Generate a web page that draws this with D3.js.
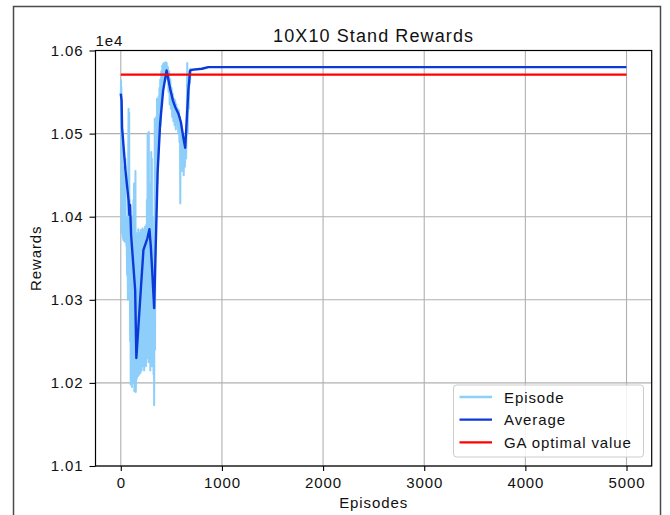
<!DOCTYPE html>
<html>
<head>
<meta charset="utf-8">
<script src="https://cdn.jsdelivr.net/npm/d3@7/dist/d3.min.js"></script>
<style>
  html, body { margin: 0; padding: 0; background: #fff; }
  svg text { font-family: "Liberation Sans", Arial, sans-serif; fill: #111; }
</style>
</head>
<body>
<svg id="chart" width="670" height="515"></svg>
<script>
// Training rewards per episode (raw scores, axis shows them scaled by 1e4)
const episodeIdx = [
  0, 2, 4, 6, 8, 10, 13, 16, 19, 22, 25, 28, 31, 34, 37, 40, 43, 46, 49, 52, 55, 58, 62,
  66, 70, 74, 77, 80, 83, 86, 89, 92, 95, 98, 101, 104, 107, 110, 113, 116, 119, 122, 125, 128,
  131, 134, 137, 140, 143, 145, 148, 152, 155, 158,
  161, 164, 167, 170, 173, 176, 179, 182, 185, 188, 191, 194, 197, 200, 203, 206, 209, 212, 215, 218, 221, 224,
  228, 231, 234, 237, 240, 243, 246, 249, 252, 255, 258, 262, 265, 268, 271, 274, 277, 280, 283, 286, 289,
  292, 295, 298, 301, 304, 307, 310, 313, 316, 320, 324, 327, 330, 333, 336, 339, 342,
  346, 350, 354, 358, 362, 366, 370, 374, 378, 382, 386, 390, 395, 400, 405, 410, 415, 420, 425, 430,
  436, 442, 448, 454, 460, 466,
  472, 478, 484, 490, 496, 502, 508, 514, 520, 526, 532, 538, 544, 550, 556, 562, 568, 574, 580, 585,
  588, 592, 598, 604, 610, 616, 622, 628, 634, 640, 646, 652, 657, 662, 666, 672, 678, 684, 690,
  700, 720, 800, 860, 4999
];
const episodeReward = [
  10545, 10564, 10470, 10556, 10380, 10530, 10440, 10500, 10375, 10460, 10372, 10430, 10380, 10450, 10370, 10420, 10378, 10470, 10372, 10400, 10365, 10380, 10330,
  10390, 10300, 10480, 10530, 10350, 10525, 10300, 10420, 10250, 10370, 10198, 10330, 10200, 10380, 10195, 10400, 10210, 10350, 10200, 10420, 10250,
  10440, 10190, 10350, 10200, 10300, 10455, 10189, 10210, 10320, 10205,
  10380, 10215, 10340, 10208, 10385, 10230, 10300, 10210, 10380, 10220, 10350, 10212, 10384, 10240, 10310, 10215, 10380, 10260, 10386, 10220, 10360, 10230,
  10384, 10215, 10370, 10225, 10388, 10240, 10375, 10220, 10390, 10250, 10420, 10230, 10500, 10300, 10480, 10225, 10502, 10350, 10440, 10230, 10385,
  10215, 10380, 10240, 10478, 10260, 10470, 10220, 10400, 10230, 10360, 10210, 10330, 10173, 10300, 10518, 10240, 10480,
  10380, 10520, 10420, 10542, 10440, 10530, 10470, 10545, 10490, 10555, 10500, 10565, 10510, 10575, 10540, 10582, 10548, 10584, 10560, 10585,
  10565, 10586, 10568, 10585, 10565, 10580,
  10550, 10575, 10535, 10565, 10530, 10555, 10520, 10548, 10515, 10542, 10510, 10540, 10505, 10535, 10515, 10530, 10500, 10528, 10490, 10520,
  10416, 10510, 10470, 10505, 10455, 10495, 10450, 10485, 10460, 10490, 10470, 10520, 10585, 10500, 10560, 10530, 10575, 10560, 10578,
  10577, 10577, 10578, 10580, 10580
];

// Running average of the rewards
const averageIdx = [
  0, 8, 13, 46, 77, 85, 92, 102, 142, 154, 201, 224, 263, 283, 297, 310, 330,
  364, 389, 419, 453, 488, 515, 538, 570, 594, 620, 637, 669, 686, 719, 802, 867, 4999
];
const averageReward = [
  10548, 10540, 10507, 10456, 10420, 10402, 10414, 10378, 10312, 10230, 10318, 10360, 10374, 10385, 10364, 10336, 10290,
  10453, 10512, 10552, 10576, 10554, 10540, 10532, 10524, 10514, 10494, 10483, 10554, 10576, 10577, 10578, 10580, 10580
];

// Reference value from the genetic algorithm
const gaIdx = [0, 5000];
const gaReward = [10571, 10571];

const xTicks = [0, 1000, 2000, 3000, 4000, 5000];
const yTicks = [1.01, 1.02, 1.03, 1.04, 1.05, 1.06];
const yScaleFactor = 1e4;

const titleText = "10X10 Stand Rewards";
const xLabel = "Episodes";
const yLabel = "Rewards";
const legendNames = ["Episode", "Average", "GA optimal value"];
const colors = ["#8dcffa", "#0c3ad8", "#ff0000"];

const svg = d3.select("#chart");

// outer figure frame
svg.append("rect")
  .attr("x", 13.5).attr("y", 6.5).attr("width", 647).attr("height", 530)
  .attr("fill", "none").attr("stroke", "#4a4a4a").attr("stroke-width", 1.5);

const plot = { left: 95.5, right: 651.7, top: 50.5, bottom: 466 };

const x = d3.scaleLinear().domain([-250, 5249]).range([plot.left, plot.right]);
const y = d3.scaleLinear().domain([1.01, 1.06]).range([plot.bottom, plot.top]);

// grid
const grid = svg.append("g").attr("stroke", "#b0b0b0").attr("stroke-width", 1.1);
xTicks.forEach(t => grid.append("line")
  .attr("x1", x(t)).attr("x2", x(t)).attr("y1", plot.top).attr("y2", plot.bottom));
yTicks.forEach(t => grid.append("line")
  .attr("x1", plot.left).attr("x2", plot.right).attr("y1", y(t)).attr("y2", y(t)));

const clip = svg.append("clipPath").attr("id", "plotclip")
  .append("rect").attr("x", plot.left).attr("y", plot.top)
  .attr("width", plot.right - plot.left).attr("height", plot.bottom - plot.top);

const lineOf = (idx, vals) => d3.line()
  .x((d, i) => x(idx[i]))
  .y((d, i) => y(vals[i] / yScaleFactor))(vals);

const lines = svg.append("g").attr("clip-path", "url(#plotclip)");
lines.append("path").attr("d", lineOf(episodeIdx, episodeReward))
  .attr("fill", "none").attr("stroke", colors[0]).attr("stroke-width", 2).attr("stroke-linejoin", "round");
lines.append("path").attr("d", lineOf(averageIdx, averageReward))
  .attr("fill", "none").attr("stroke", colors[1]).attr("stroke-width", 2.4).attr("stroke-linejoin", "round");
lines.append("path").attr("d", lineOf(gaIdx, gaReward))
  .attr("fill", "none").attr("stroke", colors[2]).attr("stroke-width", 2.2);

// axes
const xAxis = d3.axisBottom(x).tickValues(xTicks).tickSize(5).tickPadding(6).tickFormat(d3.format("d"));
const yAxis = d3.axisLeft(y).tickValues(yTicks).tickSize(6).tickPadding(6).tickFormat(d3.format(".2f"));

const gx = svg.append("g").attr("transform", `translate(0,${plot.bottom})`).call(xAxis);
const gy = svg.append("g").attr("transform", `translate(${plot.left},0)`).call(yAxis);
[gx, gy].forEach(g => {
  g.select(".domain").remove();
  g.selectAll(".tick line").attr("stroke", "#000").attr("stroke-width", 1.1);
  g.selectAll(".tick text").attr("font-size", 15).attr("letter-spacing", 0.9)
    .attr("fill", "#111").style("font-family", "'Liberation Sans', Arial, sans-serif");
});

// axes frame
svg.append("rect")
  .attr("x", plot.left).attr("y", plot.top)
  .attr("width", plot.right - plot.left).attr("height", plot.bottom - plot.top)
  .attr("fill", "none").attr("stroke", "#000").attr("stroke-width", 1.2);

// offset text
svg.append("text").attr("x", plot.left).attr("y", 45.5)
  .attr("font-size", 15).attr("letter-spacing", 0.9).text("1e4");

// title
svg.append("text").attr("x", (plot.left + plot.right) / 2).attr("y", 42)
  .attr("text-anchor", "middle").attr("font-size", 18).attr("letter-spacing", 1.1).text(titleText);

// axis labels
svg.append("text").attr("x", (plot.left + plot.right) / 2).attr("y", 507.5)
  .attr("text-anchor", "middle").attr("font-size", 15).attr("letter-spacing", 0.9).text(xLabel);
svg.append("text")
  .attr("transform", `translate(40.5,${(plot.top + plot.bottom) / 2}) rotate(-90)`)
  .attr("text-anchor", "middle").attr("font-size", 15).attr("letter-spacing", 0.9).text(yLabel);

// legend
const leg = svg.append("g");
leg.append("rect").attr("x", 453.5).attr("y", 385).attr("width", 190).attr("height", 72)
  .attr("rx", 3).attr("fill", "#fff").attr("fill-opacity", 0.85)
  .attr("stroke", "#cccccc").attr("stroke-width", 1);
legendNames.forEach((name, i) => {
  const ly = 397 + i * 22.7;
  leg.append("line").attr("x1", 459.5).attr("x2", 492).attr("y1", ly).attr("y2", ly)
    .attr("stroke", colors[i]).attr("stroke-width", 2.3);
  leg.append("text").attr("x", 504).attr("y", ly + 5.5)
    .attr("font-size", 15).attr("letter-spacing", 0.9).text(name);
});
</script>
</body>
</html>
